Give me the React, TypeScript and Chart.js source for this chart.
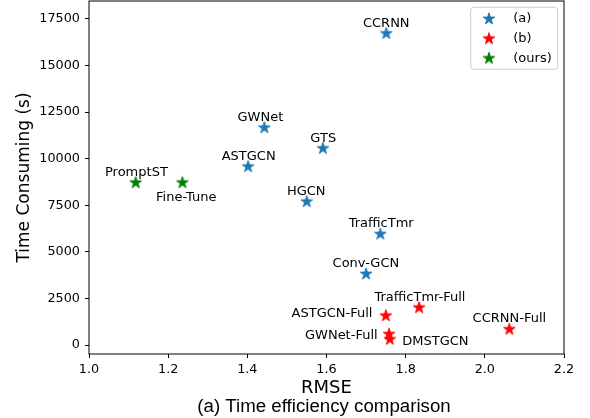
import React, { useEffect, useRef } from "react";
import { Chart, registerables } from "chart.js";

Chart.register(...registerables);

// ---------- data ----------
const namesA = ["CCRNN", "GWNet", "ASTGCN", "GTS", "HGCN", "TrafficTmr", "Conv-GCN"];
const rmseA = [1.751, 1.443, 1.402, 1.591, 1.55, 1.736, 1.7];
const timeA = [16720, 11660, 9570, 10550, 7690, 5950, 3810];

const namesB = ["TrafficTmr-Full", "ASTGCN-Full", "GWNet-Full", "DMSTGCN", "CCRNN-Full"];
const rmseB = [1.834, 1.75, 1.758, 1.76, 2.062];
const timeB = [2000, 1570, 580, 300, 840];

const namesC = ["PromptST", "Fine-Tune"];
const rmseC = [1.118, 1.236];
const timeC = [8710, 8710];

const seriesLabels = ["(a)", "(b)", "(ours)"];
const xTicks = [1.0, 1.2, 1.4, 1.6, 1.8, 2.0, 2.2];
const yTicks = [0, 2500, 5000, 7500, 10000, 12500, 15000, 17500];
const xRange = [1.0, 2.2];
const yRange = [-483, 18466];
const xTitle = "RMSE";
const yTitle = "Time Consuming (s)";
const caption = "(a) Time efficiency comparison";

// ---------- styles / label placement ----------
const seriesColors = ["#1f77b4", "#ff0000", "#008000"];
type Place = [number, number, CanvasTextAlign];
const placeA: Place[] = [
  [0, -11.6, "center"],
  [-4, -11, "center"],
  [0.5, -11.4, "center"],
  [0.3, -11.6, "center"],
  [-0.5, -11.7, "center"],
  [0.8, -12, "center"],
  [-0.2, -11.7, "center"],
];
const placeB: Place[] = [
  [0.8, -11.7, "center"],
  [-13.4, -3, "right"],
  [-11.4, 0.5, "right"],
  [12.4, 1.1, "left"],
  [0, -11.7, "center"],
];
const placeC: Place[] = [
  [0.7, -11.9, "center"],
  [3.8, 13.3, "center"],
];

const DEJAVU = '"DejaVu Sans", sans-serif';

function makeStar(color: string): HTMLCanvasElement {
  const c = document.createElement("canvas");
  c.width = 16;
  c.height = 16;
  const ctx = c.getContext("2d")!;
  const R = 6.2;
  const r = R * 0.381966;
  ctx.beginPath();
  for (let k = 0; k < 10; k++) {
    const ang = -Math.PI / 2 + (k * Math.PI) / 5;
    const rad = k % 2 === 0 ? R : r;
    const px = 8 + rad * Math.cos(ang);
    const py = 8 + rad * Math.sin(ang);
    if (k === 0) ctx.moveTo(px, py);
    else ctx.lineTo(px, py);
  }
  ctx.closePath();
  ctx.fillStyle = color;
  ctx.fill();
  ctx.lineWidth = 0.9;
  ctx.strokeStyle = color;
  ctx.stroke();
  return c;
}

export default function App() {
  const ref = useRef<HTMLCanvasElement>(null);

  useEffect(() => {
    const canvas = ref.current!;
    const stars = seriesColors.map(makeStar);
    const groups = [
      { names: namesA, place: placeA },
      { names: namesB, place: placeB },
      { names: namesC, place: placeC },
    ];

    const toPoints = (xs: number[], ys: number[]) => xs.map((x, i) => ({ x, y: ys[i] }));

    const overlay = {
      id: "overlay",
      afterDatasetsDraw(chart: any) {
        const ctx = chart.ctx as CanvasRenderingContext2D;
        ctx.save();
        ctx.font = `13px ${DEJAVU}`;
        ctx.fillStyle = "#000";
        ctx.textBaseline = "alphabetic";
        groups.forEach((g, di) => {
          const meta = chart.getDatasetMeta(di);
          meta.data.forEach((el: any, j: number) => {
            const [dx, dy, align] = g.place[j];
            ctx.textAlign = align;
            ctx.fillText(g.names[j], el.x + dx, el.y + dy + 4.7);
          });
        });
        ctx.restore();
      },
      afterDraw(chart: any) {
        const ctx = chart.ctx as CanvasRenderingContext2D;
        const a = chart.chartArea;
        ctx.save();
        // frame
        ctx.strokeStyle = "#000";
        ctx.lineWidth = 1;
        ctx.strokeRect(a.left, a.top, a.right - a.left, a.bottom - a.top);

        // legend
        const bx = a.right - 93.3;
        const by = a.top + 6.3;
        const bw = 87;
        const bh = 62;
        const rr = 3;
        ctx.beginPath();
        ctx.moveTo(bx + rr, by);
        ctx.lineTo(bx + bw - rr, by);
        ctx.quadraticCurveTo(bx + bw, by, bx + bw, by + rr);
        ctx.lineTo(bx + bw, by + bh - rr);
        ctx.quadraticCurveTo(bx + bw, by + bh, bx + bw - rr, by + bh);
        ctx.lineTo(bx + rr, by + bh);
        ctx.quadraticCurveTo(bx, by + bh, bx, by + bh - rr);
        ctx.lineTo(bx, by + rr);
        ctx.quadraticCurveTo(bx, by, bx + rr, by);
        ctx.closePath();
        ctx.fillStyle = "rgba(255,255,255,0.8)";
        ctx.fill();
        ctx.strokeStyle = "#cccccc";
        ctx.lineWidth = 1;
        ctx.stroke();
        ctx.font = `13px ${DEJAVU}`;
        ctx.fillStyle = "#000";
        ctx.textAlign = "left";
        ctx.textBaseline = "middle";
        seriesLabels.forEach((lab, i) => {
          const rowY = by + 11.7 + i * 19.7;
          ctx.drawImage(stars[i], bx + 18.3 - 8, rowY - 8);
          ctx.fillText(lab, bx + 42.6, rowY);
        });

        // caption
        ctx.font = '18.7px "Liberation Sans", Arial, sans-serif';
        ctx.textAlign = "center";
        ctx.textBaseline = "alphabetic";
        ctx.fillText(caption, (a.left + a.right) / 2 - 2.5, 411.5);
        ctx.restore();
      },
    };

    const dsStyle = { pointRadius: 0.1, pointHoverRadius: 0.1, pointBorderWidth: 0, pointHoverBorderWidth: 0 };

    const chart = new Chart(canvas, {
      type: "scatter",
      data: {
        datasets: [
          { label: seriesLabels[0], data: toPoints(rmseA, timeA), pointStyle: stars[0] as any, ...dsStyle },
          { label: seriesLabels[1], data: toPoints(rmseB, timeB), pointStyle: stars[1] as any, ...dsStyle },
          { label: seriesLabels[2], data: toPoints(rmseC, timeC), pointStyle: stars[2] as any, ...dsStyle },
        ],
      },
      options: {
        animation: false,
        responsive: false,
        maintainAspectRatio: false,
        layout: { padding: { left: 0, right: 26, top: 1, bottom: 0 } },
        plugins: {
          legend: { display: false },
          tooltip: { enabled: false },
        },
        scales: {
          x: {
            type: "linear",
            min: xRange[0],
            max: xRange[1],
            afterBuildTicks: (s: any) => {
              s.ticks = xTicks.map((v) => ({ value: v }));
            },
            afterFit: (s: any) => {
              s.height = 64;
              s.paddingLeft = 0;
              s.paddingRight = 0;
            },
            grid: { drawOnChartArea: false, drawTicks: true, tickLength: 4, color: "#000", lineWidth: 1 },
            border: { display: false },
            ticks: {
              padding: 4,
              color: "#000",
              font: { family: DEJAVU, size: 12.8 },
              maxRotation: 0,
              autoSkip: false,
              callback: (v: any) => Number(v).toFixed(1),
            },
            title: {
              display: true,
              text: xTitle,
              color: "#000",
              font: { family: DEJAVU, size: 18, lineHeight: 1.2 },
              padding: { top: 0, bottom: 19.2 },
            },
          },
          y: {
            type: "linear",
            min: yRange[0],
            max: yRange[1],
            afterBuildTicks: (s: any) => {
              s.ticks = yTicks.map((v) => ({ value: v }));
            },
            afterFit: (s: any) => {
              s.width = 89;
              s.paddingTop = 0;
              s.paddingBottom = 0;
            },
            grid: { drawOnChartArea: false, drawTicks: true, tickLength: 4, color: "#000", lineWidth: 1 },
            border: { display: false },
            ticks: {
              padding: 5,
              color: "#000",
              font: { family: DEJAVU, size: 12.8 },
              autoSkip: false,
              callback: (v: any) => String(v),
            },
            title: {
              display: true,
              text: yTitle,
              color: "#000",
              font: { family: DEJAVU, size: 17, lineHeight: 1.2 },
              padding: { top: 14, bottom: 0 },
            },
          },
        },
      },
      plugins: [overlay],
    });

    return () => chart.destroy();
  }, []);

  return (
    <div style={{ position: "fixed", left: 0, top: 0, width: 590, height: 418, background: "#fff" }}>
      <canvas ref={ref} width={590} height={418} style={{ display: "block", width: 590, height: 418 }} />
    </div>
  );
}
